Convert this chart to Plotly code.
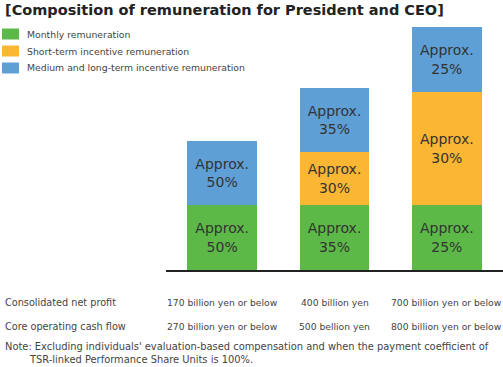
import plotly.graph_objects as go

# ---- data (relative pay levels) ----
categories = ["Level 1", "Level 2", "Level 3"]
series_names = ["Monthly remuneration",
                "Short-term incentive remuneration",
                "Medium and long-term incentive remuneration"]
monthly = [65, 65, 65]
short_term = [0, 53, 113]
long_term = [64, 64, 65]
monthly_pct = ["Approx.<br>50%", "Approx.<br>35%", "Approx.<br>25%"]
short_pct = ["", "Approx.<br>30%", "Approx.<br>30%"]
long_pct = ["Approx.<br>50%", "Approx.<br>35%", "Approx.<br>25%"]
profit_labels = ["170 billion yen or below", "400 billion yen", "700 billion yen or below"]
cashflow_labels = ["270 billion yen or below", "500 bellion yen", "800 billion yen or below"]
row_titles = ["Consolidated net profit", "Core operating cash flow"]
title_text = "[Composition of remuneration for President and CEO]"
note_lines = ["Note: Excluding individuals' evaluation-based compensation and when the payment coefficient of",
              "TSR-linked Performance Share Units is 100%."]

colors = ["#5cb947", "#fbb634", "#5e9fd6"]
FONT = "DejaVu Sans, Verdana, sans-serif"
TXT = "#333333"

W, H = 503, 367
L, R, T, B = 166, 0, 20, 97
PW, PH = W - L - R, H - T - B

def px(x):
    return (x - L) / PW

def py(y):
    return (H - B - y) / PH

fig = go.Figure()
for name, vals, txt, c in zip(series_names, [monthly, short_term, long_term],
                              [monthly_pct, short_pct, long_pct], colors):
    fig.add_trace(go.Bar(
        x=categories, y=vals, name=name, text=txt,
        textposition="inside", insidetextanchor="middle",
        textfont=dict(family=FONT, size=14, color=TXT),
        marker=dict(color=c, line=dict(width=0)),
        width=0.62, showlegend=False, hoverinfo="skip",
    ))

annotations = []
shapes = []
# title
annotations.append(dict(x=px(3), y=py(10), xref="paper", yref="paper",
                        text="<b>" + title_text + "</b>", showarrow=False,
                        xanchor="left", yanchor="middle",
                        font=dict(family=FONT, size=14.5, color="#222222")))
# legend
leg_y = [34, 51, 68]
for name, c, yy in zip(series_names, colors, leg_y):
    shapes.append(dict(type="rect", xref="paper", yref="paper",
                       x0=px(2), x1=px(19), y0=py(yy - 5.5), y1=py(yy + 5.5),
                       fillcolor=c, line=dict(width=0)))
    annotations.append(dict(x=px(25), y=py(yy), xref="paper", yref="paper",
                            text=name, showarrow=False, xanchor="left", yanchor="middle",
                            font=dict(family=FONT, size=9.3, color="#444444")))
# bottom rows
for rt, labels, yy in zip(row_titles, [profit_labels, cashflow_labels], [302, 326]):
    annotations.append(dict(x=px(3), y=py(yy), xref="paper", yref="paper",
                            text=rt, showarrow=False, xanchor="left", yanchor="middle",
                            font=dict(family=FONT, size=9.7, color="#444444")))
    for cat, lab in zip(categories, labels):
        annotations.append(dict(x=cat, y=py(yy), xref="x", yref="paper",
                                text=lab, showarrow=False, xanchor="center", yanchor="middle",
                                font=dict(family=FONT, size=9.2, color="#444444")))
# note
annotations.append(dict(x=px(3), y=py(346), xref="paper", yref="paper",
                        text=note_lines[0], showarrow=False, xanchor="left", yanchor="middle",
                        font=dict(family=FONT, size=9.9, color="#444444")))
annotations.append(dict(x=px(27), y=py(360), xref="paper", yref="paper",
                        text=note_lines[1], showarrow=False, xanchor="left", yanchor="middle",
                        font=dict(family=FONT, size=9.9, color="#444444")))

fig.update_layout(
    barmode="stack",
    width=W, height=H,
    margin=dict(l=L, r=R, t=T, b=B, pad=0),
    paper_bgcolor="white", plot_bgcolor="white",
    xaxis=dict(range=[-0.5, 2.5], showticklabels=False, ticks="",
               showline=True, linecolor="#222222", linewidth=2, showgrid=False,
               zeroline=False, fixedrange=True),
    yaxis=dict(range=[0, PH], visible=False, fixedrange=True),
    annotations=annotations, shapes=shapes,
    uniformtext=dict(mode=False),
)
fig.write_html("out.html", config={"displayModeBar": False},
               post_script="document.body.style.margin='0';document.body.style.overflow='hidden';")
